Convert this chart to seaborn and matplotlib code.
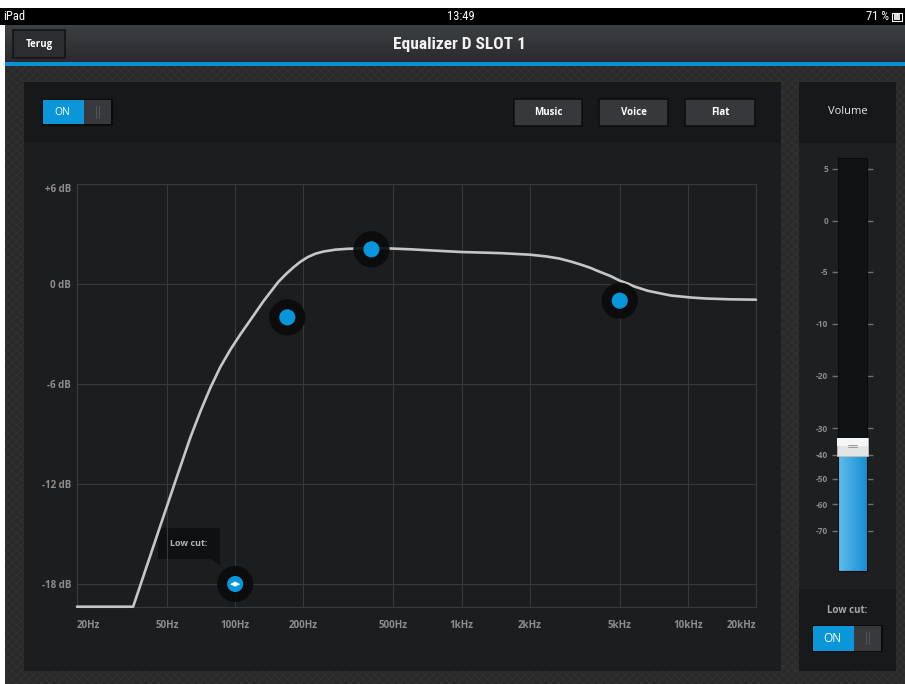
import numpy as np
import matplotlib
matplotlib.use("Agg")
import matplotlib.pyplot as plt
from matplotlib import font_manager
from matplotlib.patches import Rectangle, Polygon
from matplotlib.colors import LinearSegmentedColormap
from matplotlib.ticker import NullLocator
import seaborn as sns

# ---------------- data ----------------
curve_freq_hz = [20, 35.4, 45.9, 54.7, 63.2, 70.1, 77.7, 86.1, 95.5, 105.9, 117.4, 133.3,
                 154.7, 168.3, 181.6, 194.8, 208.9, 226.3, 246, 277, 312, 399, 488, 600, 700, 1000,
                 1343, 1500, 2000, 2355, 2700, 3037, 3357, 3724, 4000, 4565, 5000, 5484,
                 5800, 6664, 7600, 8400, 10313, 12000, 15494, 20000]
curve_gain_db = [-19.36, -19.36, -14.8, -11.74, -9.25, -7.66, -6.22, -4.96, -3.91, -2.98,
                 -2.11, -1.03, 0.11, 0.62, 1.02, 1.35, 1.61, 1.82, 1.95, 2.06, 2.11, 2.16, 2.13, 2.08,
                 2.03, 1.92, 1.87, 1.85, 1.76, 1.66, 1.53, 1.35, 1.17, 0.96, 0.78, 0.47,
                 0.2, 0.0, -0.15, -0.41, -0.57, -0.69, -0.81, -0.87, -0.92, -0.94]
band_freq_hz = [170, 400, 5000]
band_gain_db = [-2.0, 2.08, -1.0]
lowcut_freq_hz = [100]
lowcut_gain_db = [-18]
x_tick_freqs = [20, 50, 100, 200, 500, 1000, 2000, 5000, 10000, 20000]
x_tick_labels = ["20Hz", "50Hz", "100Hz", "200Hz", "500Hz", "1kHz", "2kHz", "5kHz", "10kHz", "20kHz"]
y_tick_db = [6, 0, -6, -12, -18]
y_tick_labels = ["+6 dB", "0 dB", "-6 dB", "-12 dB", "-18 dB"]
volume_ticks = [5, 0, -5, -10, -20, -30, -40, -50, -60, -70]
volume_tick_labels = ["5", "0", "-5", "-10", "-20", "-30", "-40", "-50", "-60", "-70"]
volume_level_db = [-37]
preset_buttons = ["Music", "Voice", "Flat"]

# slider scale definition (dB -> fraction of track)
slider_db = [-85, -70, -60, -50, -40, -30, -20, -10, -5, 0, 5, 6.06]
slider_pos = [0.0, 0.0969, 0.1622, 0.2228, 0.2809, 0.3462, 0.4722, 0.5981, 0.7240, 0.8475, 0.9734, 1.0]

# ---------------- fonts ----------------
sns.set_theme(style="dark")
names = {f.name for f in font_manager.fontManager.ttflist}
cond = next((n for n in ["Roboto Condensed", "Liberation Sans Narrow", "Open Sans Condensed"] if n in names), "Roboto")
base = "Open Sans" if "Open Sans" in names else "DejaVu Sans"
plt.rcParams["font.family"] = [base, "DejaVu Sans"]

W, H = 905, 684
fig = plt.figure(figsize=(W / 100, H / 100), dpi=100, facecolor="white")

# ---------------- background UI (pixel coordinates) ----------------
bg = fig.add_axes([0, 0, 1, 1], zorder=0)
bg.set_xlim(0, W)
bg.set_ylim(H, 0)
bg.axis("off")


def rect(x0, y0, x1, y1, fc, ec="none", lw=0, z=1, **kw):
    bg.add_patch(Rectangle((x0, y0), x1 - x0, y1 - y0, facecolor=fc, edgecolor=ec, lw=lw, zorder=z, **kw))


# textured page background
rect(5, 65, W + 5, H + 5, "#2a2a2a", ec="#313131", lw=0, hatch="xxxx", z=0.5)
# status bar
rect(0, 8, W, 25, "#000000")
bg.text(3, 16.5, "iPad", color="white", fontsize=9, ha="left", va="center", family=[cond, "DejaVu Sans"])
bg.text(461, 16.5, "13:49", color="white", fontsize=9, ha="center", va="center", family=[cond, "DejaVu Sans"])
bg.text(889, 16.5, "71 %", color="white", fontsize=9, ha="right", va="center", family=[cond, "DejaVu Sans"])
rect(892, 12.5, 902, 21, "none", ec="white", lw=0.8, z=2)
rect(893.5, 14, 899.5, 19.5, "#dddddd", z=2)
# nav bar gradient
grad = np.linspace(0, 1, 64)[:, None]
nav_cmap = LinearSegmentedColormap.from_list("nav", ["#3e3f43", "#2a2b2e"])
bg.imshow(grad, extent=[5, W, 62, 25], aspect="auto", cmap=nav_cmap, zorder=1, origin="upper")
bg.set_xlim(0, W)
bg.set_ylim(H, 0)
rect(5, 62, W, 65.5, "#0b90d6", z=2)
rect(13, 30, 65, 57.5, "#2c2d30", ec="#141415", lw=1.2, z=2)
bg.text(39, 44, "Terug", color="white", fontsize=7, fontweight="bold", ha="center", va="center", zorder=3)
bg.text(459, 45, "Equalizer D SLOT 1", color="#f2f2f2", fontsize=12.5, fontweight="bold",
        ha="center", va="center", family=[cond, "DejaVu Sans"], zorder=3)

# main panel
rect(24, 82, 781, 671, "#1c1d1f", z=1)
rect(24, 82, 781, 143, "#17181a", z=1.1)
# ON toggle
rect(41.5, 98.5, 112.5, 125.5, "#0a0a0b", z=2)
rect(43, 100, 84, 124, "#0a96d8", z=2.1)
rect(84, 100, 111, 124, "#38393c", z=2.1)
bg.plot([96, 96], [106, 118], color="#555659", lw=0.7, zorder=2.2)
bg.plot([98.5, 98.5], [106, 118], color="#555659", lw=0.7, zorder=2.2)
bg.text(62.5, 112.5, "ON", color="white", fontsize=7.5, ha="center", va="center", zorder=3)
# preset buttons
for name, (x0, x1) in zip(preset_buttons, [(514, 582), (599, 668), (685, 755)]):
    rect(x0, 99, x1, 126, "#37383b", ec="#0e0e0f", lw=1.2, z=2)
    bg.text((x0 + x1) / 2, 112.5, name, color="white", fontsize=7, fontweight="bold",
            ha="center", va="center", zorder=3)

# Low cut tooltip
rect(158, 528, 220, 559, "#0f1011", z=2)
bg.add_patch(Polygon([(210, 558.5), (220, 558.5), (220, 565)], closed=True, facecolor="#0f1011",
                     edgecolor="none", zorder=2))
bg.text(189, 543.5, "Low cut:", color="#b4b4b4", fontsize=6.5, fontweight="bold",
        ha="center", va="center", zorder=3)

# right panel
rect(799, 82, 896, 671, "#1e1f21", z=1)
rect(799, 82, 896, 143, "#17181a", z=1.1)
rect(799, 589, 896, 671, "#18191b", z=1.1)
bg.text(847.5, 111.5, "Volume", color="#e6e6e6", fontsize=8, ha="center", va="center", zorder=3)
bg.text(847, 610.5, "Low cut:", color="#a8a8a8", fontsize=7, fontweight="bold", ha="center", va="center", zorder=3)
rect(811.5, 624.5, 882.5, 652, "#0a0a0b", z=2)
rect(813, 626, 853.5, 650.5, "#0a96d8", z=2.1)
rect(853.5, 626, 881, 650.5, "#38393c", z=2.1)
bg.plot([866, 866], [632, 644], color="#555659", lw=0.7, zorder=2.2)
bg.plot([868.5, 868.5], [632, 644], color="#555659", lw=0.7, zorder=2.2)
bg.text(832.5, 638.5, "ON", color="white", fontsize=8.5, ha="center", va="center", zorder=3)

# ---------------- EQ chart ----------------
ax_l, ax_r, ax_t, ax_b = 77, 756, 184, 606.7
ax = fig.add_axes([ax_l / W, (H - ax_b) / H, (ax_r - ax_l) / W, (ax_b - ax_t) / H], zorder=2)
ax.set_facecolor("none")
ax.set_xscale("log")
ax.set_xlim(20, 20000)
ax.set_ylim(-19.36, 6)
grid_c = "#38393c"
ax.set_xticks(x_tick_freqs, labels=x_tick_labels)
ax.xaxis.set_minor_locator(NullLocator())
ax.set_yticks(y_tick_db, labels=y_tick_labels)
ax.grid(True, color=grid_c, lw=0.8)
for s in ax.spines.values():
    s.set_visible(True)
    s.set_color(grid_c)
    s.set_linewidth(0.8)
ax.tick_params(axis="both", length=0, labelcolor="#8d8d8d", labelsize=7)
ax.tick_params(axis="x", pad=9.5)
ax.tick_params(axis="y", pad=4.3)
for lbl in ax.get_xticklabels() + ax.get_yticklabels():
    lbl.set_fontweight("bold")
xl = ax.get_xticklabels()
xl[0].set_ha("left")
xl[-1].set_ha("right")
ax.get_yticklabels()[0].set_va("top")

sns.lineplot(x=curve_freq_hz, y=curve_gain_db, ax=ax, color="#c6c6c6", lw=1.9,
             clip_on=False, zorder=3, sort=False)
# handle halos
sns.scatterplot(x=band_freq_hz + lowcut_freq_hz, y=band_gain_db + lowcut_gain_db, ax=ax,
                s=680, color="#0b0b0c", alpha=0.92, edgecolor="none", zorder=4, clip_on=False)
sns.scatterplot(x=band_freq_hz + lowcut_freq_hz, y=band_gain_db + lowcut_gain_db, ax=ax,
                s=135, color="#0796da", edgecolor="none", zorder=5, clip_on=False)
ax.annotate("◂▸", xy=(lowcut_freq_hz[0], lowcut_gain_db[0]), ha="center", va="center",
            fontsize=8, color="white", family="DejaVu Sans", zorder=6)
ax.set_xlabel("")
ax.set_ylabel("")

# ---------------- Volume slider ----------------
tr_l, tr_r, tr_t, tr_b = 838, 867, 158, 571
vax = fig.add_axes([tr_l / W, (H - tr_b) / H, (tr_r - tr_l) / W, (tr_b - tr_t) / H], zorder=2)
vax.set_facecolor("#111213")
fwd = lambda v: np.interp(v, slider_db, slider_pos)
inv = lambda p: np.interp(p, slider_pos, slider_db)
vax.set_yscale("function", functions=(fwd, inv))
vax.set_ylim(slider_db[0], slider_db[-1])
vax.set_xlim(-0.5, 0.5)
vax.set_xticks([])
vax.set_yticks(volume_ticks, labels=volume_tick_labels)
vax.yaxis.set_minor_locator(NullLocator())
vax.tick_params(axis="y", left=True, right=True, direction="out", length=4.5, width=1,
                color="#707070", labelcolor="#8a8a8a", labelsize=6, pad=2.5)
for lbl in vax.get_yticklabels():
    lbl.set_fontweight("bold")
for s in vax.spines.values():
    s.set_color("#0c0c0d")
    s.set_linewidth(0.8)
lvl = volume_level_db[0]
bars = vax.bar([0], [lvl - slider_db[0]], bottom=slider_db[0], width=1.0, color="#2a9ad8", zorder=2)
im = vax.imshow(np.linspace(0, 1, 64)[None, :], extent=[-0.5, 0.5, slider_db[0], lvl], aspect="auto",
                cmap=LinearSegmentedColormap.from_list("fill", ["#5ebbeb", "#1590d2"]), zorder=2.1)
im.set_clip_path(bars[0])
vax.set_xlim(-0.5, 0.5)
vax.set_ylim(slider_db[0], slider_db[-1])
kp = float(fwd(lvl))
kh = 18 / (tr_b - tr_t)
vax.add_patch(Rectangle((-0.02, kp - kh / 2), 1.04, kh, transform=vax.transAxes, facecolor="#e4e4e4",
                        edgecolor="#bdbdbd", lw=0.6, zorder=3, clip_on=False))
vax.add_patch(Rectangle((-0.02, kp + kh * 0.05), 1.04, kh * 0.45, transform=vax.transAxes,
                        facecolor="#f6f6f6", edgecolor="none", zorder=3.1, clip_on=False))
for dy in (0.0, 0.0055):
    vax.plot([0.33, 0.67], [kp - 0.001 + dy] * 2, transform=vax.transAxes, color="#9c9c9c",
             lw=0.7, zorder=4)

fig.savefig("out.png", dpi=100, facecolor="white")
